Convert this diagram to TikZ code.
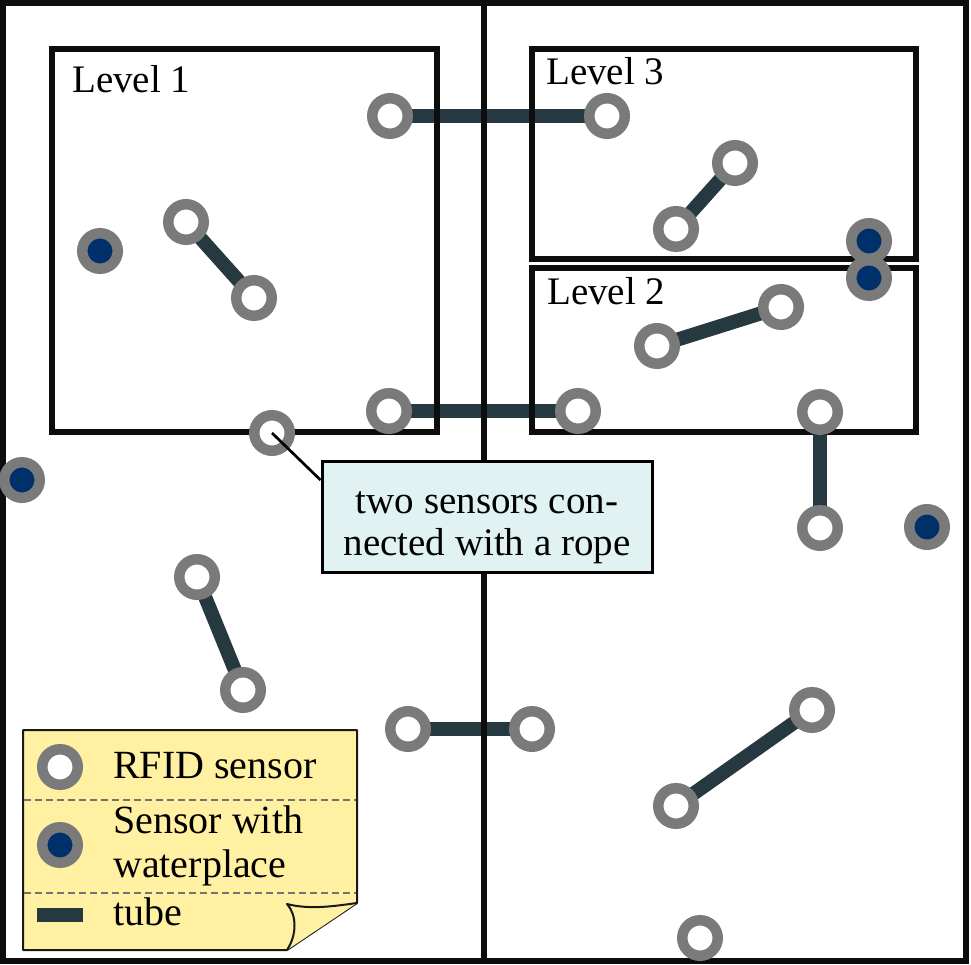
\documentclass[tikz,border=0pt]{standalone}
\usepackage{fontspec}
\setmainfont{Liberation Serif}
\usetikzlibrary{backgrounds}
\pgfdeclarelayer{walls}
\pgfsetlayers{background,walls,main}
\definecolor{ringgray}{HTML}{7A7A7A}
\definecolor{waterblue}{HTML}{00306A}
\definecolor{tubecol}{HTML}{263840}
\definecolor{notefill}{HTML}{FFF0A2}
\definecolor{callfill}{HTML}{E1F2F2}
\tikzset{
  rfid/.style  = {circle, draw=ringgray, line width=10.5pt, fill=white,
                  minimum size=35.5pt, inner sep=0pt},
  water/.style = {rfid, fill=waterblue},
  tube/.style  = {draw=tubecol, line width=14pt},
  wall/.style  = {draw=black!95, line width=5.5pt},
  lbl/.style   = {font=\fontsize{39pt}{44pt}\selectfont, inner sep=0pt,
                  align=left},
  leglbl/.style = {lbl, font=\fontsize{40pt}{44pt}\selectfont}
}

\begin{document}
\begin{tikzpicture}[
    x=1pt, y=-1pt,
    callout/.style={rectangle, draw=black, line width=3pt, fill=callfill,
                    minimum width=330pt, minimum height=111pt, align=center,
                    font=\fontsize{39pt}{42pt}\selectfont, inner sep=0pt},
    notebox/.style={draw=black!90, line width=2pt, fill=notefill, line join=round},
    sep/.style={draw=black!55, line width=2pt, dash pattern=on 7pt off 4pt},
    leader/.style={draw=black, line width=2.7pt}
  ]
  \useasboundingbox (0,0) rectangle (971,965);

  % ===================== sensors =====================
  \node[rfid]  (top-a)  at (390,116) {};
  \node[rfid]  (top-b)  at (607,116) {};
  \node[rfid]  (l3-a)   at (676,229) {};
  \node[rfid]  (l3-b)   at (735,163) {};
  \node[water] (wl3)    at (869,241) {};
  \node[water] (wl2)    at (869,278) {};
  \node[water] (wl1)    at (100,251) {};
  \node[rfid]  (l1-a)   at (186,222) {};
  \node[rfid]  (l1-b)   at (254,298) {};
  \node[rfid]  (l2-a)   at (657,346) {};
  \node[rfid]  (l2-b)   at (781,307) {};
  \node[rfid]  (mid-a)  at (389,411) {};
  \node[rfid]  (mid-b)  at (578,411) {};
  \node[rfid]  (lone-a) at (272,433) {};
  \node[water] (wleft)  at (22,480) {};
  \node[rfid]  (ver-a)  at (820,412) {};
  \node[rfid]  (ver-b)  at (820,528) {};
  \node[water] (wright) at (927,527) {};
  \node[rfid]  (sw-a)   at (197,577) {};
  \node[rfid]  (sw-b)   at (243,690) {};
  \node[rfid]  (low-a)  at (408,729) {};
  \node[rfid]  (low-b)  at (532,729) {};
  \node[rfid]  (se-a)   at (676,806) {};
  \node[rfid]  (se-b)   at (812,710) {};
  \node[rfid]  (lone-b) at (700,938) {};

  % ===================== tubes =====================
  \begin{scope}[on background layer]
    \draw[tube] (top-a.center) -- (top-b.center);
    \draw[tube] (l3-a.center) -- (l3-b.center);
    \draw[tube] (l1-a.center) -- (l1-b.center);
    \draw[tube] (l2-a.center) -- (l2-b.center);
    \draw[tube] (mid-a.center) -- (mid-b.center);
    \draw[tube] (ver-a.center) -- (ver-b.center);
    \draw[tube] (sw-a.center) -- (sw-b.center);
    \draw[tube] (low-a.center) -- (low-b.center);
    \draw[tube] (se-a.center) -- (se-b.center);
  \end{scope}

  % ===================== walls and levels =====================
  \begin{pgfonlayer}{walls}
    \draw[wall] (3,3) rectangle (966,961);
    \draw[wall] (484,3) -- (484,961);
    \draw[wall] (52,49) rectangle (437,432);
    \draw[wall] (532,49) rectangle (916,259);
    \draw[wall] (532,268) rectangle (916,432);
  \end{pgfonlayer}
  \node[lbl, anchor=base west] (lev1) at (72,93)  {Level 1};
  \node[lbl, anchor=base west] (lev3) at (546,85) {Level 3};
  \node[lbl, anchor=base west] (lev2) at (547,305) {Level 2};

  % ===================== callout =====================
  \node[callout] (rope) at (487,517)
       {\rule{0pt}{43pt}two sensors con-\\nected with a rope};
  \draw[leader] (lone-a.center) -- ([yshift=37pt]rope.west);

  % ===================== legend =====================
  \draw[notebox] (23,730) -- (357,730) -- (357,903) -- (287,950) -- (23,950) -- cycle;
  \draw[notebox] (287,950) .. controls (297,935) and (297,915) .. (287,904)
                 .. controls (310,910) and (335,906) .. (357,903);
  \draw[sep] (24,800) -- (356,800);
  \draw[sep] (24,893) -- (356,893);
  \node[rfid]  (leg-rfid)  at (60,767) {};
  \node[water] (leg-water) at (60,845) {};
  \node[fill=tubecol, minimum width=46pt, minimum height=14pt, inner sep=0pt]
       (leg-tube) at (60,915) {};
  \node[leglbl, anchor=base west] (leg-rfid-txt) at (113,778) {RFID sensor};
  \node[leglbl, anchor=west] (leg-water-txt) at (113,846) {Sensor with\\waterplace};
  \node[leglbl, anchor=base west] (leg-tube-txt) at (113,925) {tube};
\end{tikzpicture}
\end{document}
